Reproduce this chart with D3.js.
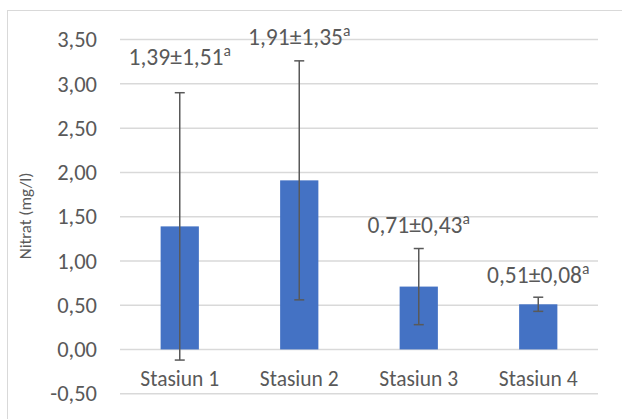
<!DOCTYPE html>
<html>
<head>
<meta charset="utf-8">
<script src="https://cdn.jsdelivr.net/npm/d3@7"></script>
<style>
  html, body { margin: 0; padding: 0; background: #fff; }
  svg { display: block; }
  text { font-family: Carlito, Calibri, "Open Sans", sans-serif; fill: #595959; }
</style>
</head>
<body>
<svg id="chart" width="622" height="419"></svg>
<script>
const categories = ["Stasiun 1", "Stasiun 2", "Stasiun 3", "Stasiun 4"];
const means = [1.39, 1.91, 0.71, 0.51];
const sds = [1.51, 1.35, 0.43, 0.08];
const letters = ["a", "a", "a", "a"];
const yTicks = [-0.5, 0, 0.5, 1, 1.5, 2, 2.5, 3, 3.5];
const yTitle = "Nitrat (mg/l)";

const svg = d3.select("#chart");
const W = 622, H = 419;
const plot = { left: 120, right: 598, top: 39.6, bottom: 393.7 };
const FONT = 'Carlito, Calibri, "Open Sans", sans-serif';

// outer chart border
svg.append("rect")
  .attr("x", 7.5).attr("y", 10.5)
  .attr("width", W).attr("height", H)
  .attr("fill", "none").attr("stroke", "#d9d9d9").attr("stroke-width", 1);

const y = d3.scaleLinear().domain([-0.5, 3.5]).range([plot.bottom, plot.top]);
const x = d3.scaleBand().domain(categories).range([plot.left, plot.right])
  .paddingInner(0.68).paddingOuter(0.34);

const fmt = v => d3.format(".2f")(v).replace("−", "-").replace(".", ",");

// gridlines
svg.append("g").selectAll("line").data(yTicks).join("line")
  .attr("x1", plot.left).attr("x2", plot.right)
  .attr("y1", d => y(d)).attr("y2", d => y(d))
  .attr("stroke", "#d9d9d9").attr("stroke-width", 1.5);

// y tick labels
const yAxis = d3.axisLeft(y).tickValues(yTicks).tickFormat(fmt).tickSize(0).tickPadding(0);
const gy = svg.append("g").attr("transform", `translate(97,0)`).call(yAxis);
gy.select(".domain").remove();
gy.selectAll("text").attr("font-size", 22.5).attr("fill", "#595959")
  .style("font-family", FONT);

// bars
svg.append("g").selectAll("rect").data(categories).join("rect")
  .attr("x", d => x(d)).attr("width", x.bandwidth())
  .attr("y", (d, i) => y(means[i]))
  .attr("height", (d, i) => y(0) - y(means[i]))
  .attr("fill", "#4472C4");

// error bars
const cap = 5;
const eg = svg.append("g").attr("stroke", "#595959").attr("stroke-width", 1.5);
categories.forEach((c, i) => {
  const cx = x(c) + x.bandwidth() / 2;
  const hi = y(means[i] + sds[i]), lo = y(means[i] - sds[i]);
  eg.append("line").attr("x1", cx).attr("x2", cx).attr("y1", hi).attr("y2", lo);
  eg.append("line").attr("x1", cx - cap).attr("x2", cx + cap).attr("y1", hi).attr("y2", hi);
  eg.append("line").attr("x1", cx - cap).attr("x2", cx + cap).attr("y1", lo).attr("y2", lo);
});

// category labels
const xAxis = d3.axisBottom(x).tickSize(0).tickPadding(0);
const gx = svg.append("g").attr("transform", `translate(0,371)`).call(xAxis);
gx.select(".domain").remove();
gx.selectAll("text").attr("font-size", 21.5).attr("fill", "#595959")
  .style("font-family", FONT);

// data labels
const labelOffsets = [28, 16, 16, 14];
const lg = svg.append("g");
categories.forEach((c, i) => {
  const cx = x(c) + x.bandwidth() / 2;
  const ty = y(means[i] + sds[i]) - labelOffsets[i];
  const t = lg.append("text").attr("x", cx).attr("y", ty)
    .attr("text-anchor", "middle").attr("font-size", 23.5);
  t.append("tspan").text(fmt(means[i]) + "±" + fmt(sds[i]));
  t.append("tspan").attr("font-size", 15.5).attr("dy", -9).text(letters[i]);
});

// y title
svg.append("text")
  .attr("transform", `translate(31,216) rotate(-90)`)
  .attr("text-anchor", "middle").attr("font-size", 17)
  .text(yTitle);
</script>
</body>
</html>
